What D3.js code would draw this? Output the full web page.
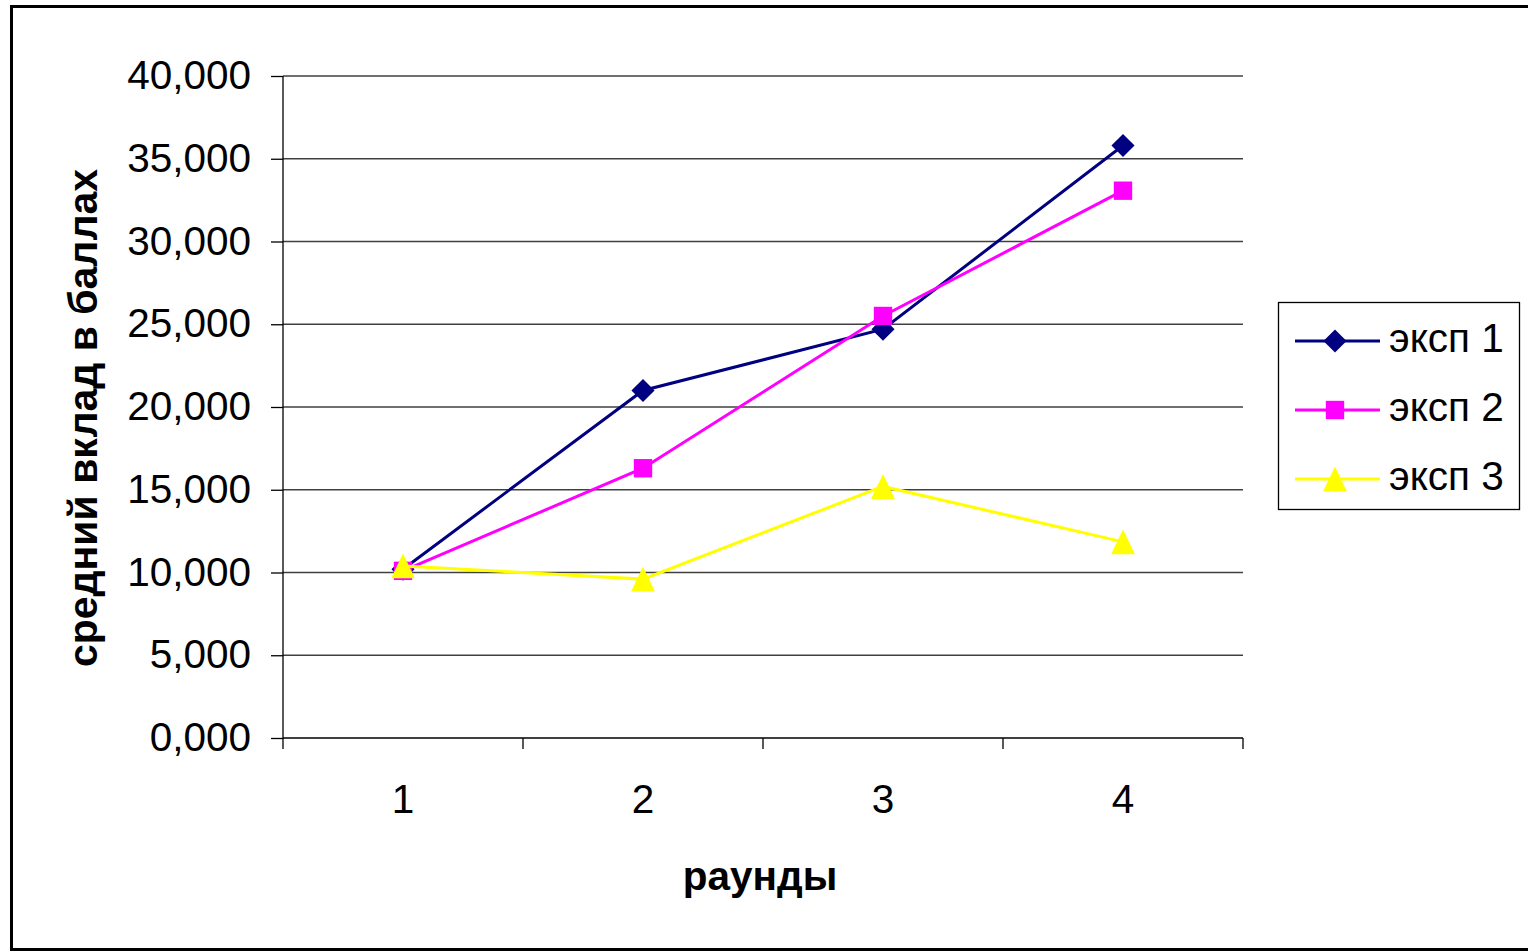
<!DOCTYPE html>
<html><head><meta charset="utf-8">
<script src="https://cdn.jsdelivr.net/npm/d3@7"></script>
<style>body{margin:0;background:#fff}svg{display:block}</style>
</head><body>
<script>
const categories = ["1","2","3","4"];
const seriesNames = ["эксп 1","эксп 2","эксп 3"];
const exp1 = [10.2, 21.0, 24.7, 35.8];
const exp2 = [10.1, 16.3, 25.5, 33.07];
const exp3 = [10.4, 9.6, 15.2, 11.85];
const yTicks = [0,5,10,15,20,25,30,35,40];
const colors = ["#000080","#FF00FF","#FFFF00"];
const triSym = {draw(ctx,size){const w=Math.sqrt(size)*0.96,h=Math.sqrt(size);ctx.moveTo(0,-h/2);ctx.lineTo(w/2,h/2);ctx.lineTo(-w/2,h/2);ctx.closePath();}};
const symbols = [d3.symbolDiamond2, d3.symbolSquare2, triSym];

const W=1528,H=952;
const svg=d3.select("body").append("svg").attr("width",W).attr("height",H);
svg.append("rect").attr("x",11.5).attr("y",6.5).attr("width",1540).attr("height",943).attr("fill","#fff").attr("stroke","#000").attr("stroke-width",3);

const L=283,R=1243,T=76,B=738;
const x=d3.scaleBand().domain(categories).range([L,R]);
const y=d3.scaleLinear().domain([0,40]).range([B,T]);
const fmt=v=>d3.format(".3f")(v).replace(".",",");
const font="Liberation Sans, Arial, sans-serif";

// gridlines
svg.append("g").selectAll("line").data(yTicks.filter(d=>d>0)).join("line")
  .attr("x1",L).attr("x2",R).attr("y1",d=>y(d)).attr("y2",d=>y(d))
  .attr("stroke","#404040").attr("stroke-width",1.3);

// y axis
const ya=svg.append("g").attr("transform",`translate(${L},0)`)
  .call(d3.axisLeft(y).tickValues(yTicks).tickFormat(fmt).tickSize(12).tickPadding(20));
ya.select(".domain").attr("stroke","#000").attr("stroke-width",1.3).attr("d",`M0,${T}V${B}`);
ya.selectAll(".tick line").attr("stroke","#000").attr("stroke-width",1.3);
ya.selectAll("text").attr("font-family",font).attr("font-size",40.5).attr("fill","#000").attr("dy","0.31em");

// x axis
const xa=svg.append("g").attr("transform",`translate(0,${B})`)
  .call(d3.axisBottom(x).tickSize(0).tickPadding(46));
xa.select(".domain").attr("stroke","#000").attr("stroke-width",1.3).attr("d",`M${L},0H${R}`);
xa.selectAll("text").attr("font-family",font).attr("font-size",40.5).attr("fill","#000");
const bounds=categories.map(c=>x(c)).concat([R]);
xa.append("g").selectAll("line").data(bounds).join("line")
  .attr("x1",d=>d).attr("x2",d=>d).attr("y1",0).attr("y2",11).attr("stroke","#000").attr("stroke-width",1.3);

// titles
svg.append("text").attr("x",760).attr("y",890).attr("text-anchor","middle")
  .attr("font-family",font).attr("font-weight","bold").attr("font-size",40.5).text("раунды");
svg.append("text").attr("transform","translate(97,418) rotate(-90)").attr("text-anchor","middle")
  .attr("font-family",font).attr("font-weight","bold").attr("font-size",41).text("средний вклад в баллах");

// series
const allData=[exp1,exp2,exp3];
const cx=c=>x(c)+x.bandwidth()/2;
const symSize=[340,430,620];
const line=d3.line().x((d,i)=>cx(categories[i])).y(d=>y(d));
allData.forEach((data,s)=>{
  const g=svg.append("g");
  g.append("path").datum(data).attr("d",line).attr("fill","none").attr("stroke",colors[s]).attr("stroke-width",3);
  g.selectAll("path.m").data(data).join("path").attr("class","m")
    .attr("d",d3.symbol(symbols[s],symSize[s]))
    .attr("transform",(d,i)=>`translate(${cx(categories[i])},${y(d)})`)
    .attr("fill",colors[s]);
});

// legend
const lg=svg.append("g");
lg.append("rect").attr("x",1278.5).attr("y",302.5).attr("width",241).attr("height",207).attr("fill","#fff").attr("stroke","#000").attr("stroke-width",1.3);
seriesNames.forEach((n,i)=>{
  const yy=341+i*69;
  lg.append("line").attr("x1",1295).attr("x2",1380).attr("y1",yy).attr("y2",yy).attr("stroke",colors[i]).attr("stroke-width",3);
  lg.append("path").attr("d",d3.symbol(symbols[i],symSize[i])).attr("transform",`translate(1335,${yy})`).attr("fill",colors[i]);
  lg.append("text").attr("x",1389).attr("y",yy-4).attr("dy","0.36em").attr("font-family",font).attr("font-size",40.5).text(n);
});
</script>
</body></html>
